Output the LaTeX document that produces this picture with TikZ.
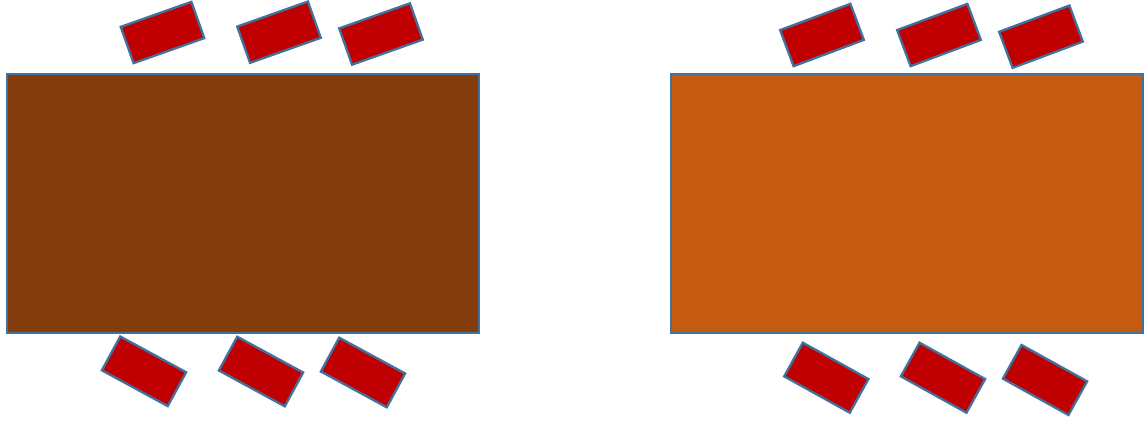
\documentclass[tikz,border=0pt]{standalone}
\definecolor{edgeblue}{HTML}{41719C}
\definecolor{darkbrown}{HTML}{843C0C}
\definecolor{lightbrown}{HTML}{C55A11}
\definecolor{seatred}{HTML}{C00000}
\begin{document}
\begin{tikzpicture}[x=1pt,y=-1pt,
  tablebox/.style={draw=edgeblue,line width=2pt,outer sep=0pt,minimum width=472pt,minimum height=259pt,inner sep=0pt,anchor=north west},
  seat/.style={draw=edgeblue,fill=seatred,line width=2.3pt,minimum width=75pt,minimum height=38.5pt,inner sep=0pt}]
\useasboundingbox (0,0) rectangle (1146,423);
\node[tablebox,fill=darkbrown] (tL) at (7,74) {};
\node[tablebox,fill=lightbrown] (tR) at (670.5,74) {};
% left table seats
\node[seat,rotate=19.5] (lt1) at (162.5,32.5) {};
\node[seat,rotate=19.5] (lt2) at (279,32.2) {};
\node[seat,rotate=19.5] (lt3) at (381,34) {};
\node[seat,rotate=-28.5] (lb1) at (144,371.3) {};
\node[seat,rotate=-28.5] (lb2) at (261,371.5) {};
\node[seat,rotate=-28.5] (lb3) at (363,372.5) {};
% right table seats
\node[seat,rotate=20.5] (rt1) at (822,35) {};
\node[seat,rotate=20.5] (rt2) at (939,35) {};
\node[seat,rotate=20.5] (rt3) at (1041,36.7) {};
\node[seat,rotate=-29] (rb1) at (826.3,377.7) {};
\node[seat,rotate=-29] (rb2) at (943,377.7) {};
\node[seat,rotate=-29] (rb3) at (1045,380) {};
\end{tikzpicture}
\end{document}
